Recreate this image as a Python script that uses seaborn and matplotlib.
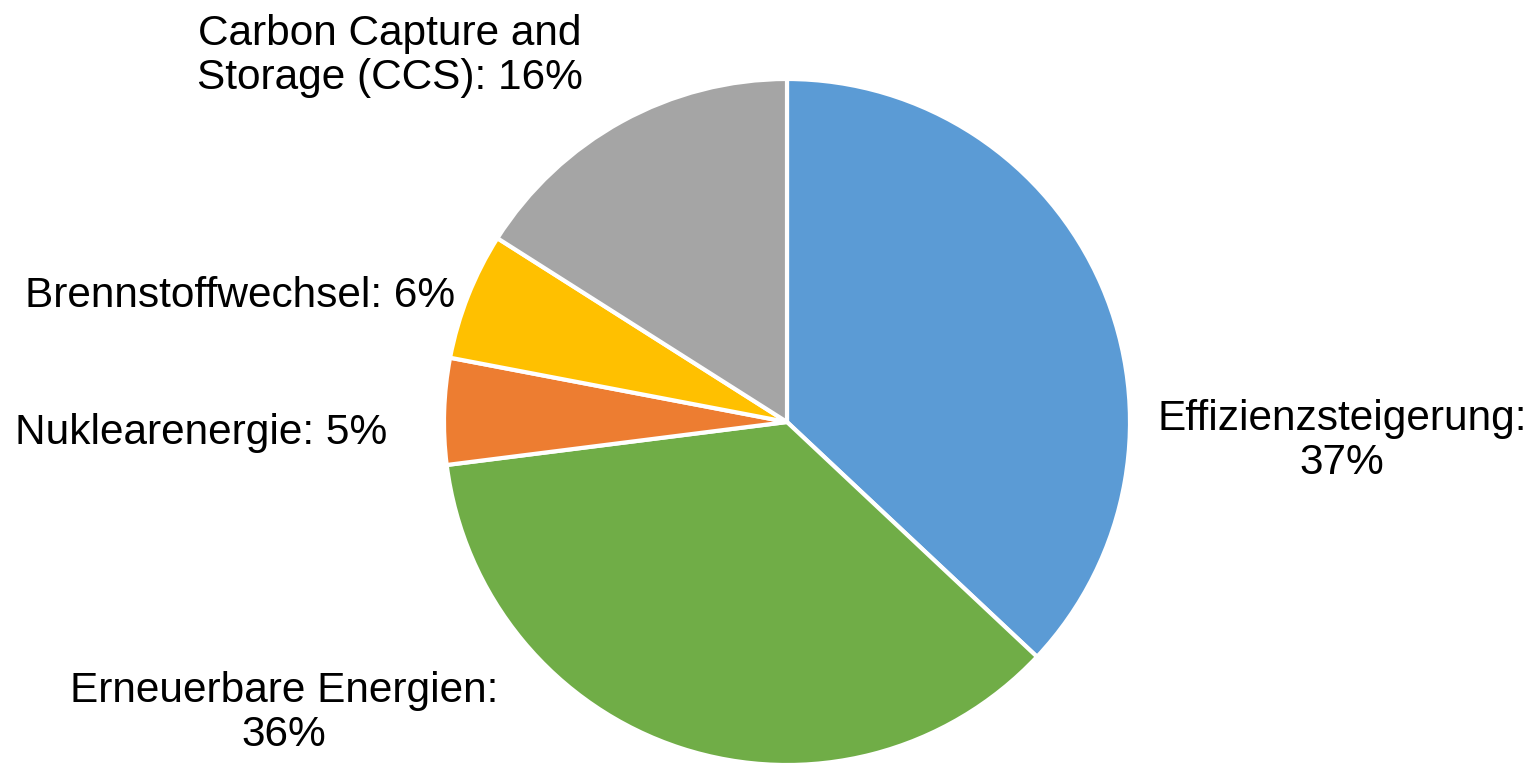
import matplotlib
matplotlib.use("Agg")
import matplotlib.pyplot as plt
import seaborn as sns

categories = ["Effizienzsteigerung", "Erneuerbare Energien", "Nuklearenergie",
              "Brennstoffwechsel", "Carbon Capture and Storage (CCS)"]
values = [37, 36, 5, 6, 16]
label_texts = ["Effizienzsteigerung:\n37%", "Erneuerbare Energien:\n36%",
               "Nuklearenergie: 5%", "Brennstoffwechsel: 6%",
               "Carbon Capture and\nStorage (CCS): 16%"]
colors = ["#5B9BD5", "#70AD47", "#ED7D31", "#FFC000", "#A5A5A5"]

sns.set_theme(style="white")
plt.rcParams['font.family'] = ['Liberation Sans', 'DejaVu Sans']

W, H = 1534, 764
fig = plt.figure(figsize=(W / 100, H / 100), dpi=100)
cx, cy, r = 787, 422, 343
ax = fig.add_axes([(cx - r) / W, (H - cy - r) / H, 2 * r / W, 2 * r / H])
ax.pie(values, colors=colors, startangle=90, counterclock=False, radius=1,
       wedgeprops=dict(edgecolor="white", linewidth=3))
ax.set_xlim(-1, 1)
ax.set_ylim(-1, 1)
ax.set_aspect("equal")
ax.axis("off")

# label positions in pixel coordinates (center x, center y)
label_pos = [(1342, 441), (284, 713), (201, 433), (240, 296), (390, 56)]
for txt, (px, py) in zip(label_texts, label_pos):
    fig.text(px / W, 1 - py / H, txt, ha="center", va="center",
             fontsize=30.5, color="black", linespacing=1.15,
             multialignment="center")

fig.savefig("out.png", dpi=100, facecolor="white")
